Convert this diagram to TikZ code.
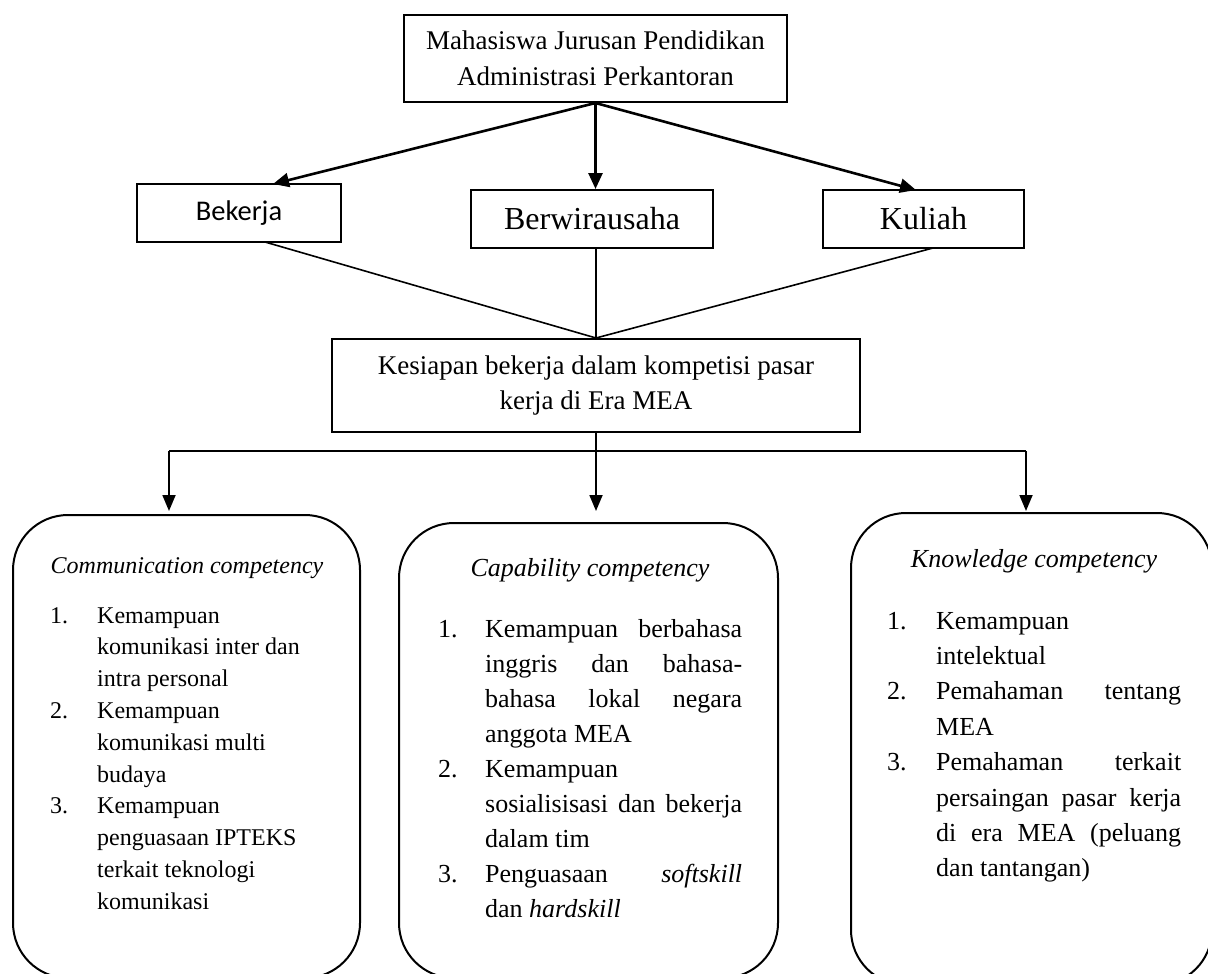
\documentclass[tikz,border=0pt]{standalone}
\usepackage{fontspec}
\setmainfont{Liberation Serif}
\newfontfamily\calibfont{Carlito}
\usetikzlibrary{arrows.meta,calc}
\begin{document}
\begin{tikzpicture}[x=1pt,y=-1pt,
  sqbox/.style={draw, line width=2pt, inner sep=0pt, align=center},
  roundbox/.style={draw, line width=2pt, rounded corners=55pt, inner sep=0pt},
  toparrow/.style={line width=2.6pt, -{Triangle[length=16pt,width=14pt]}},
  joinline/.style={line width=1.6pt},
  botline/.style={line width=1.8pt},
  botarrow/.style={line width=1.8pt, -{Triangle[length=16pt,width=13pt]}},
  listtext/.style={anchor=base west, inner sep=0pt},
  titletext/.style={anchor=base, inner sep=0pt}
]
\useasboundingbox (0,0) rectangle (1208,974);
\clip (0,0) rectangle (1208,974);

% top level
\node[sqbox, minimum width=383pt, minimum height=87pt,
      font=\fontsize{27}{36}\selectfont] (top) at (595.5,58.5)
      {Mahasiswa Jurusan Pendidikan\\Administrasi Perkantoran};

\node[sqbox, minimum width=204pt, minimum height=58pt,
      font=\calibfont\fontsize{28.5}{34}\selectfont] (bek) at (239,213) {Bekerja};
\node[sqbox, minimum width=242pt, minimum height=58pt,
      font=\fontsize{32}{38}\selectfont] (ber) at (592,219) {Berwirausaha};
\node[sqbox, minimum width=201pt, minimum height=58pt,
      font=\fontsize{32}{38}\selectfont] (kul) at (923.5,219) {Kuliah};

\coordinate (bekIn) at (273,184);
\coordinate (kulIn) at (916,190);
\draw[toparrow] (top.south) -- (bekIn);
\draw[toparrow] (top.south) -- (top.south |- ber.north);
\draw[toparrow] (top.south) -- (kulIn);

\node[sqbox, minimum width=528pt, minimum height=93pt,
      font=\fontsize{27}{35}\selectfont] (kes) at (596,385.5)
      {Kesiapan bekerja dalam kompetisi pasar\\kerja di Era MEA};

\coordinate (bekOut) at (265,242);
\coordinate (kulOut) at (933,248);
\draw[joinline] (bekOut) -- (kes.north);
\draw[joinline] (kes.north |- ber.south) -- (kes.north);
\draw[joinline] (kulOut) -- (kes.north);

% bottom boxes
\node[roundbox, minimum width=347pt, minimum height=463pt] (com) at (186.5,746.5) {};
\node[roundbox, minimum width=379pt, minimum height=455pt] (cap) at (588.5,750.5) {};
\node[roundbox, minimum width=361pt, minimum height=472pt] (know) at (1031.5,749) {};

\coordinate (hl) at (169,451);
\coordinate (hr) at (1026,451);
\draw[botline] (hl) -- (hr);
\draw[botarrow, shorten >=3pt] (hl) -- (hl |- com.north);
\draw[botarrow, shorten >=11pt] (kes.south) -- (kes.south |- cap.north);
\draw[botarrow, shorten >=1pt] (hr) -- (hr |- know.north);

% left box text
\node[titletext, font=\itshape\fontsize{24}{30}\selectfont] (comt) at (187,573) {Communication competency};
\node[listtext, font=\fontsize{24}{31.8}\selectfont] (coml) at (50,623) {%
\begin{tabular}[t]{@{}l@{}}
\makebox[47pt][l]{1.}Kemampuan\\
\hspace*{47pt}komunikasi inter dan\\
\hspace*{47pt}intra personal\\
\makebox[47pt][l]{2.}Kemampuan\\
\hspace*{47pt}komunikasi multi\\
\hspace*{47pt}budaya\\
\makebox[47pt][l]{3.}Kemampuan\\
\hspace*{47pt}penguasaan IPTEKS\\
\hspace*{47pt}terkait teknologi\\
\hspace*{47pt}komunikasi
\end{tabular}};

% middle box text
\node[titletext, font=\itshape\fontsize{26}{32}\selectfont] (capt) at (590,576) {Capability competency};
\node[listtext, font=\fontsize{26}{35}\selectfont] (capl) at (438,637) {%
\begin{tabular}[t]{@{}l@{}}
\makebox[47pt][l]{1.}\makebox[257pt][s]{Kemampuan berbahasa}\\
\hspace*{47pt}\makebox[257pt][s]{inggris dan bahasa-}\\
\hspace*{47pt}\makebox[257pt][s]{bahasa lokal negara}\\
\hspace*{47pt}anggota MEA\\
\makebox[47pt][l]{2.}Kemampuan\\
\hspace*{47pt}\makebox[257pt][s]{sosialisisasi dan bekerja}\\
\hspace*{47pt}dalam tim\\
\makebox[47pt][l]{3.}\makebox[257pt][s]{Penguasaan \textit{softskill}}\\
\hspace*{47pt}dan \textit{hardskill}
\end{tabular}};

% right box text
\node[titletext, font=\itshape\fontsize{26}{32}\selectfont] (knowt) at (1034,567) {Knowledge competency};
\node[listtext, font=\fontsize{26}{35.4}\selectfont] (knowl) at (887,629) {%
\begin{tabular}[t]{@{}l@{}}
\makebox[49pt][l]{1.}Kemampuan\\
\hspace*{49pt}intelektual\\
\makebox[49pt][l]{2.}\makebox[245pt][s]{Pemahaman tentang}\\
\hspace*{49pt}MEA\\
\makebox[49pt][l]{3.}\makebox[245pt][s]{Pemahaman terkait}\\
\hspace*{49pt}\makebox[245pt][s]{persaingan pasar kerja}\\
\hspace*{49pt}\makebox[245pt][s]{di era MEA (peluang}\\
\hspace*{49pt}dan tantangan)
\end{tabular}};
\end{tikzpicture}
\end{document}
